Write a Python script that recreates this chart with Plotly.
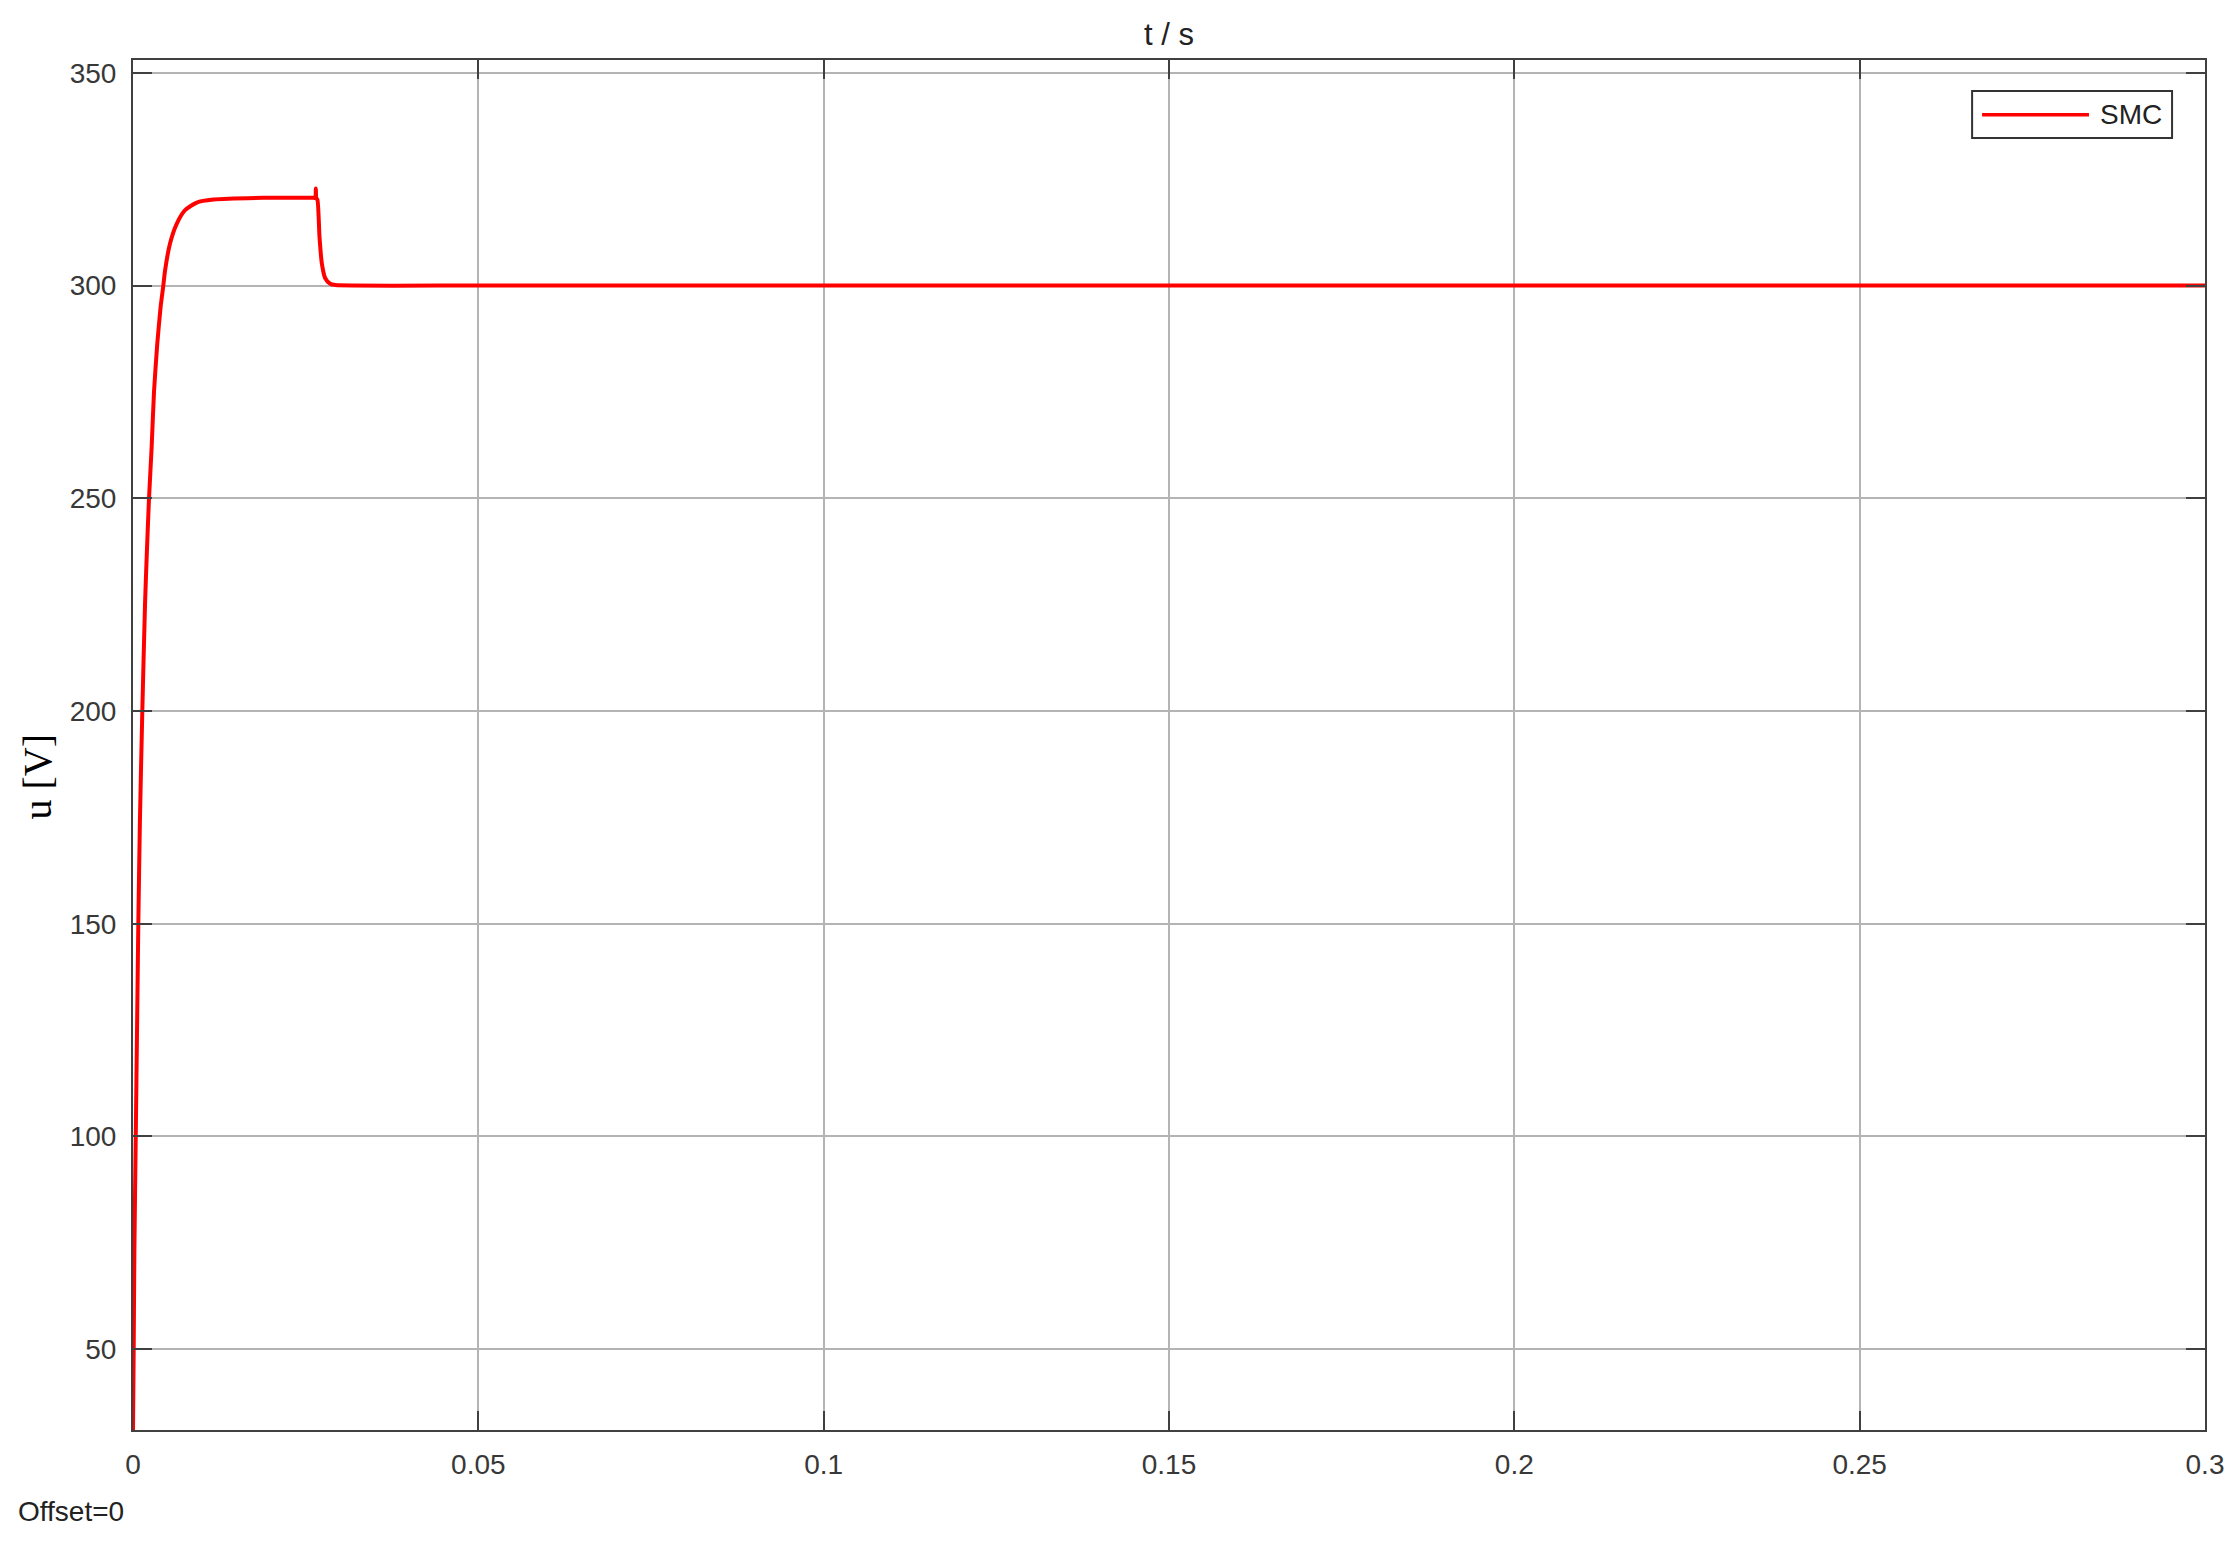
"""Scope capture: DC bus voltage u [V] under SMC, 0..0.3 s."""

import plotly.graph_objects as go

# values
T_S = [
    0.0, 0.0001, 0.0002, 0.0004, 0.0006, 0.00077, 0.001, 0.00135, 0.00174,
    0.0020, 0.00232, 0.0027, 0.00304, 0.0035, 0.0040, 0.00439, 0.00464,
    0.00536, 0.00633, 0.00754, 0.00923, 0.01164, 0.01889, 0.02613, 0.02640,
    0.02647, 0.02655, 0.0267, 0.0270, 0.02734, 0.02783, 0.02855, 0.0293,
    0.05, 0.1, 0.15, 0.2, 0.25, 0.3,
]
U_SMC = [
    31.0, 50.0, 73.0, 100.0, 127.0, 150.0, 174.0, 200.0, 225.0,
    237.0, 250.0, 262.0, 275.0, 286.0, 295.0, 300.0, 303.5,
    309.9, 314.5, 317.7, 319.5, 320.2, 320.6, 320.6, 320.6,
    322.8, 320.4, 320.2, 311.5, 305.2, 301.7, 300.4, 300.1,
    300.0, 300.0, 300.0, 300.0, 300.0, 300.0,
]
X_TICKS = [0, 0.05, 0.1, 0.15, 0.2, 0.25, 0.3]
X_TICK_TEXT = ["0", "0.05", "0.1", "0.15", "0.2", "0.25", "0.3"]
Y_TICKS = [50, 100, 150, 200, 250, 300, 350]
X_RANGE = [0, 0.3]
Y_RANGE = [31, 353]

_RED = "#ff0000"
_AXIS = "#404040"
_GRID = "#b4b4b4"
_SANS = "Liberation Sans, Arial, sans-serif"
_SERIF = "Liberation Serif, Times New Roman, serif"

fig = go.Figure()
fig.add_trace(
    go.Scatter(
        x=T_S,
        y=U_SMC,
        mode="lines",
        line=dict(color=_RED, width=4, shape="spline", smoothing=0.6),
        name="SMC",
        showlegend=False,
    )
)

axis_common = dict(
    showline=True,
    linecolor=_AXIS,
    linewidth=2,
    mirror="ticks",
    ticks="inside",
    ticklen=19,
    tickwidth=2,
    tickcolor=_AXIS,
    showgrid=True,
    gridcolor=_GRID,
    gridwidth=1.5,
    zeroline=False,
    tickfont=dict(family=_SANS, size=28, color="#383838"),
)
fig.update_xaxes(
    range=X_RANGE,
    tickvals=X_TICKS,
    ticktext=X_TICK_TEXT,
    ticklabelstandoff=8,
    **axis_common,
)
fig.update_yaxes(range=Y_RANGE, tickvals=Y_TICKS, ticklabelstandoff=9, **axis_common)

# title, y label, scope offset note
fig.add_annotation(
    text="t / s", xref="paper", yref="paper", x=0.5, y=1, yshift=26,
    yanchor="middle", showarrow=False,
    font=dict(family=_SANS, size=31, color="#222222"),
)
fig.add_annotation(
    text="u [V]", xref="paper", yref="paper", x=0, xshift=-95, y=0.477,
    textangle=-90, xanchor="center", yanchor="middle", showarrow=False,
    font=dict(family=_SERIF, size=40, color="#000000"),
)
fig.add_annotation(
    text="Offset=0", xref="paper", yref="paper", x=0, xshift=-117, y=-0.0595,
    xanchor="left", yanchor="middle", showarrow=False,
    font=dict(family=_SANS, size=28, color="#222222"),
)

# legend box drawn by hand to get the long line sample
fig.add_shape(
    type="rect", xref="paper", yref="paper",
    x0=0.8876, x1=0.9841, y0=0.9431, y1=0.9774,
    line=dict(color="#333333", width=2), fillcolor="white", layer="above",
)
fig.add_shape(
    type="line", xref="paper", yref="paper",
    x0=0.8924, x1=0.9440, y0=0.9600, y1=0.9600,
    line=dict(color=_RED, width=3.5), layer="above",
)
fig.add_annotation(
    text="SMC", xref="paper", yref="paper", x=0.9484, y=0.9600,
    xanchor="left", yanchor="middle", showarrow=False,
    font=dict(family=_SANS, size=28, color="#222222"),
)

# page body has an 8px margin, so the figure is trimmed by 8px on each axis
fig.update_layout(
    width=2232,
    height=1533,
    margin=dict(l=125, r=35, t=52, b=111),
    paper_bgcolor="white",
    plot_bgcolor="white",
    showlegend=False,
)

fig.write_html("out.html")
